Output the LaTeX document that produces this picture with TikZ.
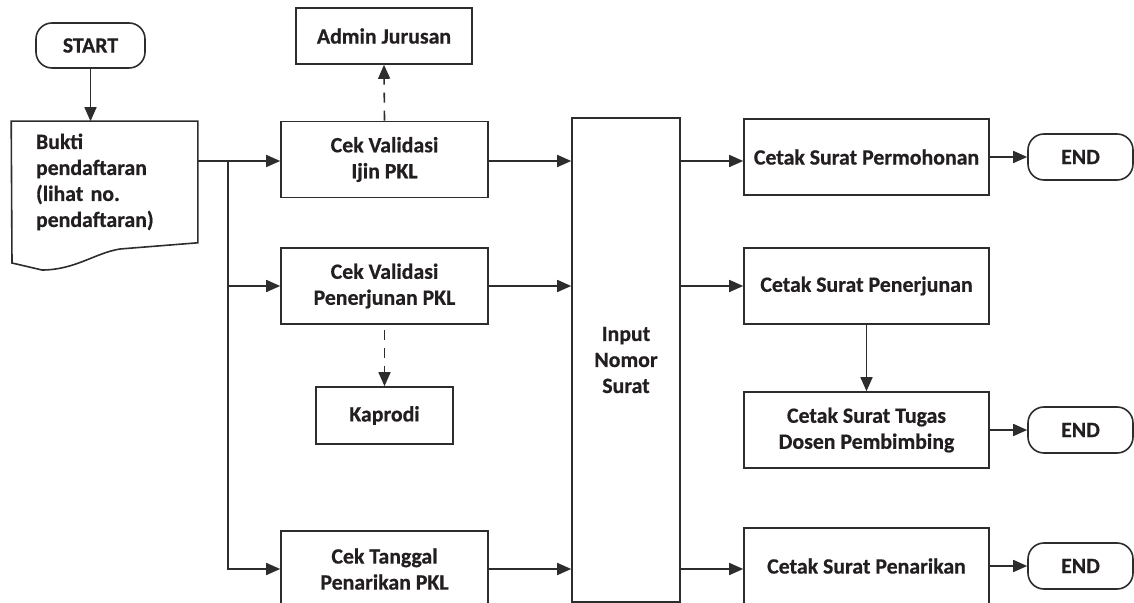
\documentclass[tikz,border=0pt]{standalone}
\usepackage{fontspec}
\setmainfont{Carlito}[BoldFeatures={FakeBold=0.6}]
\usetikzlibrary{arrows.meta, positioning}
\definecolor{flowline}{RGB}{45, 45, 45}
\definecolor{flowtext}{RGB}{35, 31, 32}

\begin{document}
\begin{tikzpicture}[x=0.5pt, y=-0.5pt,
  box/.style={draw=flowline, line width=0.8pt, inner sep=0pt, align=center, font=\fontsize{10.9}{13}\selectfont\bfseries, text=flowtext},
  cekbox/.style={box, minimum width=103.5pt, minimum height=38pt},
  cetakbox/.style={box, minimum width=122.5pt, minimum height=38pt},
  terminal/.style={box, rounded corners=8pt, minimum width=52.5pt, minimum height=23pt},
  flow/.style={draw=flowline, line width=0.8pt, -{Triangle[length=7pt, width=6pt]}},
  link/.style={flow, dash pattern=on 5pt off 4pt}]
  \clip (0, 0) rectangle (1134, 603);

  % Start and registration proof
  \node[terminal, minimum width=54.5pt, minimum height=22.5pt] (start) at (90.5, 45.5) {START};
  \node[box, draw=none, text width=68.5pt, align=left, inner xsep=12pt, minimum height=60pt] (bukti) at (104.5, 182) {Bukti\\pendaftaran\\(lihat no.\\pendaftaran)};
  \draw[draw=flowline, line width=0.8pt] (bukti.north west) -- (bukti.north east) -- (bukti.south east) -- (120, 249) .. controls (95, 253) and (75, 270) .. (42, 270) -- (12, 263) -- cycle;

  % Checks
  \node[box, minimum width=88pt, minimum height=28pt] (admin) at (384, 36) {Admin Jurusan};
  \node[cekbox] (ijin) at (384.5, 159.5) {Cek Validasi\\Ijin PKL};
  \node[cekbox] (validasi) at (384.5, 286) {Cek Validasi\\Penerjunan PKL};
  \node[box, minimum width=68.5pt, minimum height=28.5pt] (kaprodi) at (384.5, 415.5) {Kaprodi};
  \node[cekbox] (tanggal) at (384.5, 569) {Cek Tanggal\\Penarikan PKL};

  % Input and print
  \node[box, minimum width=54pt, minimum height=242pt] (input) at (626, 360) {Input\\Nomor\\Surat};
  \node[cetakbox] (mohon) at (866.5, 157) {Cetak Surat Permohonan};
  \node[cetakbox] (terjun) at (866.5, 286) {Cetak Surat Penerjunan};
  \node[cetakbox] (tugas) at (866.5, 430) {Cetak Surat Tugas\\Dosen Pembimbing};
  \node[cetakbox] (tarik) at (866.5, 566) {Cetak Surat Penarikan};
  \node[terminal] (end1) at (1080.5, 157) {END};
  \node[terminal] (end2) at (1080.5, 430) {END};
  \node[terminal] (end3) at (1080.5, 566) {END};

  % Connectors
  \coordinate (fork) at (228, 161);
  \draw[flow] (start.south) -- (start.south |- bukti.north);
  \draw[flow] (bukti.east |- fork) -- (fork -| ijin.west);
  \draw[flow] (fork) |- (tanggal.west);
  \draw[flow] (fork |- validasi.west) -- (validasi.west);
  \draw[link] (ijin.north) -- (admin.south);
  \draw[link] ([yshift=-2.5pt]validasi.south) -- (kaprodi.north);
  \draw[flow] (ijin.east |- fork) -- (fork -| input.west);
  \draw[flow] (validasi.east) -- (validasi.east -| input.west);
  \draw[flow] (tanggal.east) -- (tanggal.east -| input.west);
  \draw[flow] (input.east |- fork) -- (fork -| mohon.west);
  \draw[flow] (input.east |- terjun.west) -- (terjun.west);
  \draw[flow] (input.east |- tanggal.east) -- (tarik.west |- tanggal.east);
  \draw[flow] (terjun.south) -- (tugas.north);
  \draw[flow] (mohon.east) -- (end1.west);
  \draw[flow] (tugas.east) -- (end2.west);
  \draw[flow] (tarik.east) -- (end3.west);
\end{tikzpicture}
\end{document}
